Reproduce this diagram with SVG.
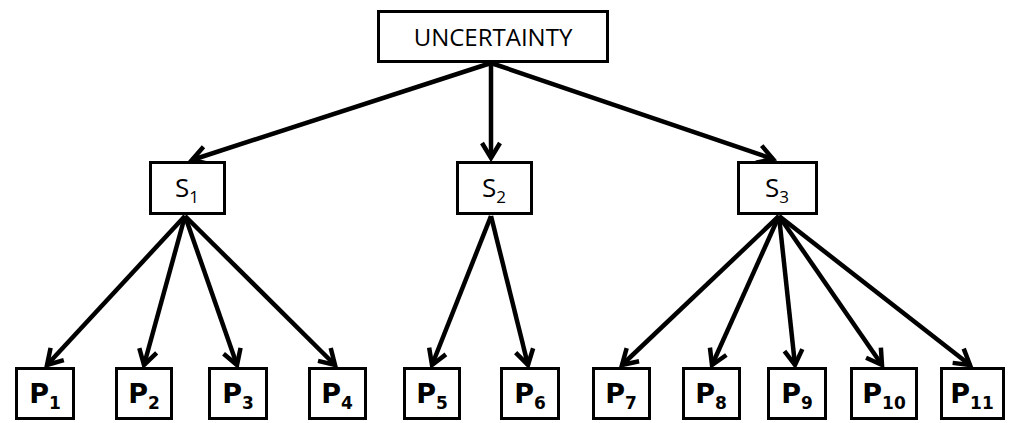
<svg xmlns="http://www.w3.org/2000/svg" width="1011" height="423" viewBox="0 0 1011 423">
  <style>
    .box { fill: #ffffff; stroke: #000000; stroke-width: 3; }
    .edge { stroke: #000000; stroke-width: 4.5; fill: none; marker-end: url(#open); }
    .lbl { font-family: "Open Sans", "Liberation Sans", sans-serif; fill: #000000; text-anchor: middle; }
    .slbl { font-family: "Open Sans", "Liberation Sans", sans-serif; font-size: 26px; fill: #000000; text-anchor: middle; }
    .plbl { font-family: "DejaVu Sans", "Liberation Sans", sans-serif; font-weight: bold; font-size: 27px; fill: #000000; text-anchor: middle; }
    .sub { font-size: 17px; }
    .psub { font-size: 17px; }
  </style>
  <defs>
    <marker id="open" markerUnits="userSpaceOnUse" markerWidth="30" markerHeight="30" refX="0" refY="0" viewBox="-20 -15 30 30" orient="auto" overflow="visible">
      <path d="M-15,-9 L0,0 L-15,9" fill="none" stroke="#000000" stroke-width="4.5" stroke-linejoin="miter"/>
    </marker>
  </defs>
  <rect width="1011" height="423" fill="#ffffff"/>

  <g id="connectors">
    <line class="edge" x1="491" y1="63" x2="192" y2="160"/>
    <line class="edge" x1="491" y1="63" x2="491" y2="158"/>
    <line class="edge" x1="491" y1="63" x2="773" y2="159"/>

    <line class="edge" x1="185" y1="216" x2="47" y2="365"/>
    <line class="edge" x1="185" y1="216" x2="144" y2="365"/>
    <line class="edge" x1="185" y1="216" x2="237" y2="365"/>
    <line class="edge" x1="185" y1="216" x2="335" y2="365"/>

    <line class="edge" x1="491" y1="216" x2="432" y2="365"/>
    <line class="edge" x1="491" y1="216" x2="528" y2="365"/>

    <line class="edge" x1="779" y1="216" x2="622" y2="365"/>
    <line class="edge" x1="779" y1="216" x2="712" y2="365"/>
    <line class="edge" x1="779" y1="216" x2="795" y2="365"/>
    <line class="edge" x1="779" y1="216" x2="882" y2="365"/>
    <line class="edge" x1="779" y1="216" x2="970" y2="365"/>
  </g>

  <g id="uncertainty">
    <rect class="box" x="378.5" y="11.5" width="229" height="50"/>
    <text class="lbl" x="493" y="46" font-size="24">UNCERTAINTY</text>
  </g>

  <g id="s1">
    <rect class="box" x="150.5" y="162.5" width="74" height="51"/>
    <text class="slbl" x="187" y="197">S<tspan class="sub" dy="6">1</tspan></text>
  </g>
  <g id="s2">
    <rect class="box" x="457.5" y="162.5" width="74" height="51"/>
    <text class="slbl" x="494" y="197">S<tspan class="sub" dy="6">2</tspan></text>
  </g>
  <g id="s3">
    <rect class="box" x="738.5" y="162.5" width="78" height="51"/>
    <text class="slbl" x="777" y="197">S<tspan class="sub" dy="6">3</tspan></text>
  </g>

  <g id="p1">
    <rect class="box" x="16.5" y="368.5" width="57" height="50"/>
    <text class="plbl" x="45" y="403">P<tspan class="psub" dy="6">1</tspan></text>
  </g>
  <g id="p2">
    <rect class="box" x="116.5" y="368.5" width="55" height="50"/>
    <text class="plbl" x="144" y="403">P<tspan class="psub" dy="6">2</tspan></text>
  </g>
  <g id="p3">
    <rect class="box" x="209.5" y="368.5" width="57" height="50"/>
    <text class="plbl" x="238" y="403">P<tspan class="psub" dy="6">3</tspan></text>
  </g>
  <g id="p4">
    <rect class="box" x="309.5" y="368.5" width="56" height="50"/>
    <text class="plbl" x="337" y="403">P<tspan class="psub" dy="6">4</tspan></text>
  </g>
  <g id="p5">
    <rect class="box" x="404.5" y="368.5" width="55" height="50"/>
    <text class="plbl" x="432" y="403">P<tspan class="psub" dy="6">5</tspan></text>
  </g>
  <g id="p6">
    <rect class="box" x="501.5" y="368.5" width="57" height="50"/>
    <text class="plbl" x="530" y="403">P<tspan class="psub" dy="6">6</tspan></text>
  </g>
  <g id="p7">
    <rect class="box" x="593.5" y="368.5" width="56" height="50"/>
    <text class="plbl" x="621" y="403">P<tspan class="psub" dy="6">7</tspan></text>
  </g>
  <g id="p8">
    <rect class="box" x="683.5" y="368.5" width="56" height="50"/>
    <text class="plbl" x="711" y="403">P<tspan class="psub" dy="6">8</tspan></text>
  </g>
  <g id="p9">
    <rect class="box" x="768.5" y="368.5" width="57" height="50"/>
    <text class="plbl" x="797" y="403">P<tspan class="psub" dy="6">9</tspan></text>
  </g>
  <g id="p10">
    <rect class="box" x="851.5" y="368.5" width="65" height="50"/>
    <text class="plbl" x="884" y="403">P<tspan class="psub" dy="6">10</tspan></text>
  </g>
  <g id="p11">
    <rect class="box" x="941.5" y="368.5" width="62" height="50"/>
    <text class="plbl" x="972" y="403">P<tspan class="psub" dy="6">11</tspan></text>
  </g>
</svg>
